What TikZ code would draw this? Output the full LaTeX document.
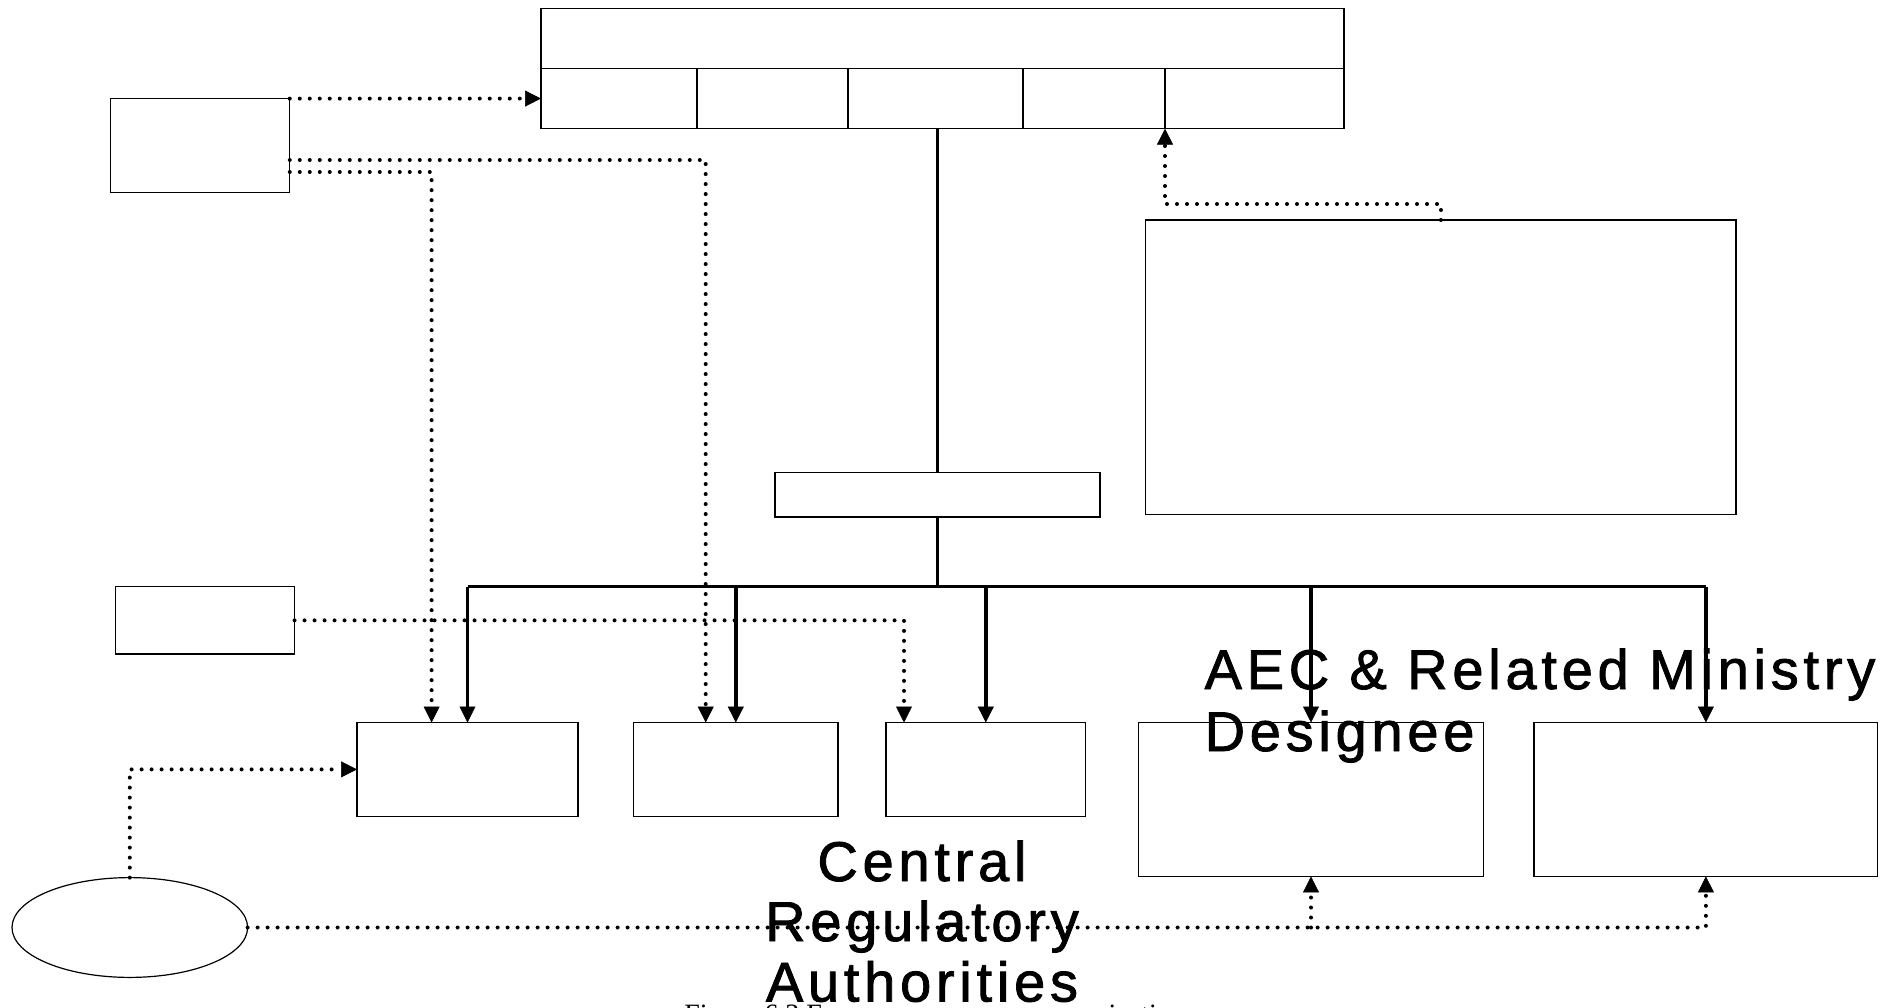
\documentclass[tikz,border=0pt]{standalone}
\usepackage{fontspec}
\usetikzlibrary{arrows.meta,shapes.geometric}
\newfontfamily\labfont[LetterSpace=8.5,FakeBold=1.5]{Liberation Sans}
\newfontfamily\capfont{Liberation Serif}
\tikzset{
  box/.style={draw, line width=0.6pt, inner sep=0pt, outer sep=0pt},
  tip/.style={-{Triangle[length=8pt,width=8pt,line width=0.3pt]}},
  solidline/.style={line width=1.7pt},
  solidc/.style={solidline, tip},
  dotc/.style={line width=2pt, line cap=round, dash pattern=on 0pt off 5pt},
  dotarrow/.style={dotc, tip},
  lab/.style={inner sep=0pt, outer sep=0pt, font=\labfont\fontsize{28pt}{30pt}\selectfont},
}
\begin{document}
\begin{tikzpicture}[x=0.5pt,y=-0.5pt]
\useasboundingbox (0,0) rectangle (1885,1007);
% top box
\node[box, minimum width=401.5pt, minimum height=30.05pt] (head) at (942.5,38.45) {};
\node[box, minimum width=78pt,   minimum height=30.05pt] (c1) at (619,98.55) {};
\node[box, minimum width=75.5pt, minimum height=30.05pt] (c2) at (772.5,98.55) {};
\node[box, minimum width=87.5pt, minimum height=30.05pt] (c3) at (935.5,98.55) {};
\node[box, minimum width=71pt,   minimum height=30.05pt] (c4) at (1094,98.55) {};
\node[box, minimum width=89.5pt, minimum height=30.05pt] (c5) at (1254.5,98.55) {};
% side boxes
\node[box, minimum width=89.55pt, minimum height=46.9pt] (A) at (200.2,145.5) {};
\node[box, minimum width=89.55pt, minimum height=33.65pt] (B) at (205,620.35) {};
\node[box, minimum width=295.15pt, minimum height=147.25pt] (R) at (1440.9,367.25) {};
\node[box, minimum width=162.5pt, minimum height=22.25pt] (mid) at (937.5,494.75) {};
% bottom boxes
\node[box, minimum width=110.5pt, minimum height=46.9pt] (b1) at (467.5,769.4) {};
\node[box, minimum width=102.2pt, minimum height=46.9pt] (b2) at (735.8,769.4) {};
\node[box, minimum width=99.8pt,  minimum height=46.9pt] (b3) at (985.8,769.4) {};
\node[box, minimum width=172.5pt, minimum height=76.95pt] (b4) at (1311,799.45) {};
\node[box, minimum width=171.9pt, minimum height=76.95pt] (b5) at (1705.9,799.45) {};
\node[draw, line width=0.6pt, ellipse, inner sep=0pt, outer sep=0pt, minimum width=117.8pt, minimum height=49.9pt] (E) at (129.8,927.5) {};
% coordinates
\coordinate (bus) at (0,586.7);
\coordinate (k1) at (705.7,160);
\coordinate (k2) at (431.6,172);
\coordinate (k3) at (904,620.35);
\coordinate (k4) at (1441,204);
% solid connectors
\draw[solidline] (mid.north |- c3.south) -- (mid.north);
\draw[solidline] (mid.south) -- (mid.south |- bus);
\draw[solidline] (b1.north |- bus) -- (b5.north |- bus);
\draw[solidc] (b1.north |- bus) -- (b1.north);
\draw[solidc] (b2.north |- bus) -- (b2.north);
\draw[solidc] (b3.north |- bus) -- (b3.north);
\draw[solidc] (b4.north |- bus) -- (b4.north);
\draw[solidc] (b5.north |- bus) -- (b5.north);
% dotted connectors
\draw[dotarrow] (A.north east) -- (c1.west);
\draw[dotarrow] (A.east |- k1) -- (k1) -- (k1 |- b2.north);
\draw[dotarrow] (A.east |- k2) -- (k2) -- (k2 |- b1.north);
\draw[dotarrow] (B.east) -- (k3) -- (k3 |- b3.north);
\draw[dotarrow] (R.north) -- (k4) -- (k4 -| c5.south west) -- (c5.south west);
\draw[dotarrow] (E.north) |- (b1.west);
\draw[dotarrow] (E.east) -| (b5.south);
\draw[dotarrow] (E.east -| b4.south) -- (b4.south);
% labels
\node[lab, anchor=base west] (t1) at (1204.6,689) {AEC \& Related Ministry};
\node[lab, anchor=base west] (t2) at (1204.6,751) {Designee};
\node[lab, anchor=base] (t3) at (922,881) {Central};
\node[lab, anchor=base] (t4) at (922,941) {Regulatory};
\node[lab, anchor=base] (t5) at (922,1001.5) {Authorities};
\node[inner sep=0pt, anchor=base, font=\capfont\fontsize{14pt}{16pt}\selectfont] (cap) at (934.5,1023) {Figure 6.3 Emergency response organization};
\end{tikzpicture}
\end{document}
